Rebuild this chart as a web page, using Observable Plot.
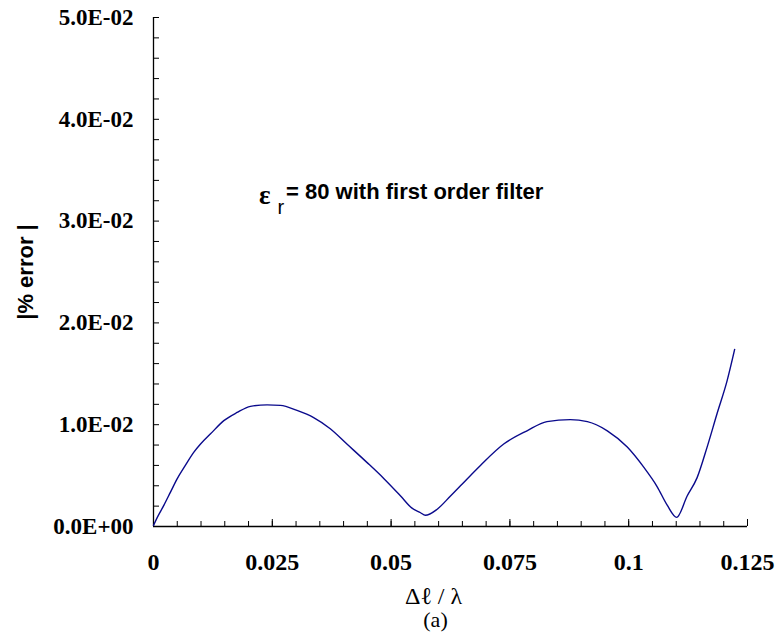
<!DOCTYPE html>
<html>
<head>
<meta charset="utf-8">
<script src="https://cdn.jsdelivr.net/npm/d3@7"></script>
<script src="https://cdn.jsdelivr.net/npm/@observablehq/plot@0.6"></script>
<style>
  html, body { margin: 0; padding: 0; background: #fff; overflow: hidden; }
  #chart svg { display: block; }
</style>
</head>
<body>
<div id="chart"></div>
<script>
// ---- data ----
const dl = [0, 0.0008, 0.0022, 0.0036, 0.005, 0.0067, 0.0085, 0.0099, 0.012, 0.0148, 0.0176, 0.0204, 0.0239, 0.0267,
  0.0302, 0.0337, 0.0372, 0.0407, 0.0449, 0.0485, 0.052, 0.0544, 0.0562, 0.0572, 0.0597, 0.0625, 0.0646,
  0.0688, 0.0737, 0.0786, 0.0828, 0.0877, 0.0913, 0.0955, 0.0997, 0.1032, 0.106, 0.1081, 0.1101,
  0.1123, 0.1144, 0.1165, 0.1186, 0.1207, 0.1223];
const err = [0.0001, 0.0009, 0.0021, 0.0034, 0.0047, 0.006, 0.0073, 0.0081, 0.0091, 0.0104, 0.0112, 0.0118, 0.01195, 0.0119,
  0.0114, 0.0107, 0.0096, 0.0081, 0.0063, 0.0047, 0.003, 0.0018, 0.00135, 0.0011, 0.0017, 0.003, 0.004,
  0.006, 0.0081, 0.0094, 0.0103, 0.0105, 0.0103, 0.0094, 0.0078, 0.0058, 0.0039, 0.0021, 0.0009,
  0.003, 0.0048, 0.0078, 0.0111, 0.0143, 0.0174];

const xTicks = [0, 0.025, 0.05, 0.075, 0.1, 0.125];
const xTickLabels = ["0", "0.025", "0.05", "0.075", "0.1", "0.125"];
const xMinorTicks = d3.range(0, 26).map(i => +(i * 0.005).toFixed(4));
const yTicks = [0, 0.01, 0.02, 0.03, 0.04, 0.05];
const yTickLabels = ["0.0E+00", "1.0E-02", "2.0E-02", "3.0E-02", "4.0E-02", "5.0E-02"];
const yMinorTicks = d3.range(0, 26).map(i => +(i * 0.002).toFixed(4));

const xLabel = "Δℓ / λ";
const yLabel = "|% error |";
const caption = "(a)";
const annSymbol = [{x: 0.0222, y: 0.0317, t: "ε"}];
const annSub = [{x: 0.0261, y: 0.0307, t: "r"}];
const annMain = [{x: 0.0279, y: 0.0322, t: "= 80 with first order filter"}];

const table = dl.map((d, i) => ({x: d, y: err[i]}));

const serif = "'Liberation Serif', 'Times New Roman', serif";
const sans = "'Liberation Sans', Arial, sans-serif";

const chart = Plot.plot({
  width: 780,
  height: 633,
  marginLeft: 153,
  marginRight: 33,
  marginTop: 17,
  marginBottom: 107,
  x: {domain: [0, 0.125]},
  y: {domain: [0, 0.05]},
  style: {background: "#fff", color: "#000", overflow: "hidden"},
  marks: [
    // minor + major inward ticks
    Plot.axisY(yMinorTicks, {tickSize: -6, tickFormat: () => "", label: null, stroke: "#000"}),
    Plot.axisX(xMinorTicks, {tickSize: -5, tickFormat: () => "", label: null, stroke: "#000"}),
    Plot.axisX(xTicks, {tickSize: -7, tickFormat: () => "", label: null, stroke: "#000"}),
    // tick labels
    Plot.axisY(yTicks, {tickSize: 0, tickPadding: 20, label: null,
      tickFormat: d => yTickLabels[yTicks.indexOf(d)],
      fontSize: 23, fontFamily: serif, fontWeight: "bold", fill: "#000"}),
    Plot.axisX(xTicks, {tickSize: 0, tickPadding: 26, label: null,
      tickFormat: d => xTickLabels[xTicks.indexOf(d)],
      fontSize: 24, fontFamily: serif, fontWeight: "bold", fill: "#000"}),
    // axis lines
    Plot.ruleX([0], {stroke: "#000", strokeWidth: 1.3}),
    Plot.ruleY([0], {stroke: "#000", strokeWidth: 1.3}),
    // curve
    Plot.line(table, {x: "x", y: "y", curve: "monotone-x", stroke: "#0a0a8c", strokeWidth: 1.4}),
    // annotation
    Plot.text(annSymbol, {x: "x", y: "y", text: "t", textAnchor: "start", lineAnchor: "bottom",
      fontSize: 27, fontFamily: serif, fontWeight: "bold", fill: "#000"}),
    Plot.text(annSub, {x: "x", y: "y", text: "t", textAnchor: "start", lineAnchor: "bottom",
      fontSize: 20, fontFamily: sans, fill: "#000"}),
    Plot.text(annMain, {x: "x", y: "y", text: "t", textAnchor: "start", lineAnchor: "bottom",
      fontSize: 22, fontFamily: sans, fontWeight: "bold", fill: "#000"}),
    // axis titles and caption
    Plot.text([yLabel], {frameAnchor: "left", dx: -128, rotate: -90, textAnchor: "middle", text: d => d,
      fontSize: 22, fontFamily: sans, fontWeight: "bold", fill: "#000"}),
    Plot.text([xLabel], {frameAnchor: "bottom", dx: -17, dy: 77, text: d => d,
      fontSize: 24, fontFamily: serif, fill: "#000"}),
    Plot.text([caption], {frameAnchor: "bottom", dx: -15, dy: 100, lineAnchor: "bottom", text: d => d,
      fontSize: 22, fontFamily: serif, fill: "#000"})
  ]
});
document.getElementById("chart").appendChild(chart);
</script>
</body>
</html>
